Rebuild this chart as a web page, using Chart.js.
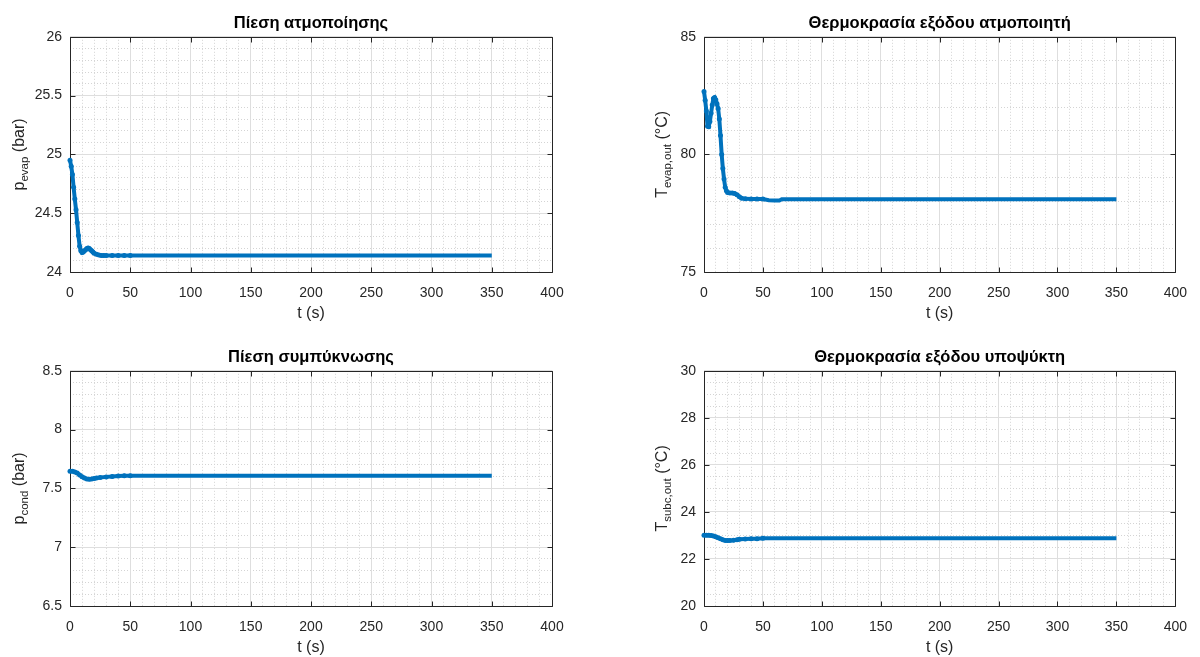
<!DOCTYPE html>
<html>
<head>
<meta charset="utf-8">
<script src="https://cdn.jsdelivr.net/npm/chart.js@4/dist/chart.umd.min.js"></script>
<style>
html,body{margin:0;padding:0;background:#fff;overflow:hidden;width:1200px;height:657px;position:relative;}
canvas{position:absolute;}
</style>
</head>
<body>
<canvas id="c1" width="600" height="328" style="left:0px;top:0px"></canvas>
<canvas id="c2" width="566" height="328" style="left:634px;top:0px"></canvas>
<canvas id="c3" width="600" height="328" style="left:0px;top:334px"></canvas>
<canvas id="c4" width="566" height="328" style="left:634px;top:334px"></canvas>
<script>
// ---------- DATA ----------
const titles = ['Πίεση ατμοποίησης', 'Θερμοκρασία εξόδου ατμοποιητή', 'Πίεση συμπύκνωσης', 'Θερμοκρασία εξόδου υποψύκτη'];
const xLabel = 't (s)';
const xTicks = [0, 50, 100, 150, 200, 250, 300, 350, 400];

// Πίεση ατμοποίησης (bar)
const tPevap = [0,1,2,3,4,5,6,7,8,9,10,11,12,13,14,15,16,17,18,19,20,
  22,24,26,28,30,35,40,45,50,
  60,75,100,125,150,175,200,225,250,275,300,325,350];
const pEvap = [24.95,24.90,24.83,24.72,24.62,24.53,24.42,24.31,24.22,24.18,24.165,24.17,24.18,24.19,24.2,24.205,24.2,24.19,24.18,24.17,24.16,
  24.15,24.145,24.14,24.14,24.14,24.14,24.14,24.14,24.14,
  24.14,24.14,24.14,24.14,24.14,24.14,24.14,24.14,24.14,24.14,24.14,24.14,24.14];
const yTicksPevap = [24, 24.5, 25, 25.5, 26];

// Θερμοκρασία εξόδου ατμοποιητή (°C)
const tTevap = [0,1,2,3,4,5,6,7,8,9,10,11,12,13,14,15,16,17,18,19,20,
  22,24,26,28,30,32,35,40,45,50,55,60,64,66,70,
  75,100,125,150,175,200,225,250,275,300,325,350];
const tEvapOut = [82.67,82.3,81.85,81.2,81.18,81.4,81.75,82.1,82.38,82.42,82.32,82.15,81.95,81.5,80.8,80.0,79.4,78.95,78.6,78.45,78.38,
  78.36,78.36,78.34,78.28,78.2,78.14,78.11,78.1,78.1,78.1,78.05,78.04,78.04,78.09,78.09,
  78.09,78.09,78.09,78.09,78.09,78.09,78.09,78.09,78.09,78.09,78.09,78.09];
const yTicksTevap = [75, 80, 85];

// Πίεση συμπύκνωσης (bar)
const tPcond = [0,2,4,6,8,10,12,14,16,18,20,22,25,30,35,40,45,50,
  60,75,100,125,150,175,200,225,250,275,300,325,350];
const pCond = [7.645,7.645,7.64,7.63,7.615,7.6,7.588,7.58,7.578,7.58,7.584,7.588,7.592,7.598,7.602,7.605,7.607,7.608,
  7.608,7.608,7.608,7.608,7.608,7.608,7.608,7.608,7.608,7.608,7.608,7.608,7.608];
const yTicksPcond = [6.5, 7, 7.5, 8, 8.5];

// Θερμοκρασία εξόδου υποψύκτη (°C)
const tTsubc = [0,2,4,6,8,10,12,14,16,18,20,22,25,28,30,35,40,45,50,
  60,75,100,125,150,175,200,225,250,275,300,325,350];
const tSubcOut = [23.01,23.01,23.01,23.0,22.98,22.94,22.9,22.86,22.82,22.79,22.78,22.79,22.8,22.82,22.84,22.85,22.86,22.86,22.88,
  22.88,22.88,22.88,22.88,22.88,22.88,22.88,22.88,22.88,22.88,22.88,22.88,22.88];
const yTicksTsubc = [20, 22, 24, 26, 28, 30];

// ---------- STYLE / HELPERS ----------
const FONT = '"Liberation Sans", Arial, Helvetica, sans-serif';
const AXC = '#262626';
const LINE = '#0072BD';
const fmt = v => String(Math.round(v * 1000) / 1000);

function drawYTitle(ctx, cx, cy, main, sub, rest) {
  ctx.save();
  ctx.translate(cx, cy);
  ctx.rotate(-Math.PI / 2);
  const fMain = '16px ' + FONT, fSub = '11.5px ' + FONT;
  ctx.font = fMain;
  const w1 = ctx.measureText(main).width, w3 = ctx.measureText(rest).width;
  ctx.font = fSub;
  const w2 = ctx.measureText(sub).width;
  const x0 = -(w1 + w2 + w3) / 2;
  ctx.fillStyle = AXC;
  ctx.textAlign = 'left';
  ctx.textBaseline = 'alphabetic';
  ctx.font = fMain; ctx.fillText(main, x0, 6);
  ctx.font = fSub; ctx.fillText(sub, x0 + w1, 10);
  ctx.font = fMain; ctx.fillText(rest, x0 + w1 + w2, 6);
  ctx.restore();
}

const framePlugin = {
  id: 'frame',
  beforeDatasetsDraw(chart) {
    const { ctx, chartArea: a } = chart;
    const xs = chart.scales.x, ys = chart.scales.y;
    ctx.save();
    ctx.strokeStyle = AXC;
    ctx.lineWidth = 1;
    ctx.beginPath();
    const L = Math.round(a.left) + 0.5, R = Math.round(a.right) + 0.5;
    const T = Math.round(a.top) + 0.5, B = Math.round(a.bottom) + 0.5;
    xs.ticks.forEach(t => {
      const px = Math.round(xs.getPixelForValue(t.value)) + 0.5;
      ctx.moveTo(px, B); ctx.lineTo(px, B - 5);
      ctx.moveTo(px, T); ctx.lineTo(px, T + 5);
    });
    ys.ticks.forEach(t => {
      const py = Math.round(ys.getPixelForValue(t.value)) + 0.5;
      ctx.moveTo(L, py); ctx.lineTo(L + 5, py);
      ctx.moveTo(R, py); ctx.lineTo(R - 5, py);
    });
    ctx.rect(L, T, R - L, B - T);
    ctx.stroke();
    ctx.restore();
  },
  afterDraw(chart, args, opts) {
    const a = chart.chartArea;
    drawYTitle(chart.ctx, opts.cx, (a.top + a.bottom) / 2, opts.main, opts.sub, opts.rest);
  }
};

function makeChart(id, cfg) {
  const pts = cfg.t.map((t, i) => ({ x: t, y: cfg.v[i] }));
  return new Chart(document.getElementById(id), {
    type: 'line',
    data: { datasets: [{
      data: pts, xAxisID: 'x', yAxisID: 'y',
      borderColor: LINE, backgroundColor: LINE,
      borderWidth: 4,
      pointRadius: c => (c.raw && c.raw.x > 50 ? 0 : 2.5),
      pointHoverRadius: 0,
      pointBorderWidth: 0, pointBackgroundColor: LINE,
      tension: 0, clip: false
    }] },
    options: {
      responsive: false, animation: false, events: [],
      layout: { padding: { left: 0, right: cfg.padR, top: 0, bottom: 0 } },
      plugins: {
        legend: { display: false },
        tooltip: { enabled: false },
        title: { display: true, text: cfg.title, color: '#000', fullSize: false,
          font: { family: FONT, size: 16.5, weight: 'bold' },
          padding: { top: 14, bottom: 3 } },
        frame: { cx: cfg.cx, main: cfg.ym, sub: cfg.ys, rest: cfg.yr }
      },
      scales: {
        xm: { type: 'linear', position: 'bottom', min: 0, max: 400,
          ticks: { stepSize: 10, display: false },
          grid: { color: '#d4d4d4', lineWidth: 1, drawTicks: false },
          border: { display: false, dash: [1, 2] },
          afterFit: s => { s.height = 0; } },
        ymn: { type: 'linear', position: 'left', axis: 'y', min: cfg.ymin, max: cfg.ymax,
          ticks: { stepSize: cfg.yminor, display: false },
          grid: { color: '#d4d4d4', lineWidth: 1, drawTicks: false },
          border: { display: false, dash: [1, 2] },
          afterFit: s => { s.width = 0; } },
        x: { type: 'linear', position: 'bottom', min: 0, max: 400,
          afterBuildTicks: s => { s.ticks = xTicks.map(v => ({ value: v })); },
          ticks: { font: { family: FONT, size: 14 }, color: AXC, padding: 13, maxRotation: 0, autoSkip: false, callback: fmt },
          grid: { color: '#dedede', lineWidth: 1, drawTicks: false },
          border: { display: false },
          title: { display: true, text: xLabel, color: AXC, font: { family: FONT, size: 16 }, padding: { top: 0, bottom: 5 } },
          afterFit: s => { s.height = 56; } },
        y: { type: 'linear', position: 'left', min: cfg.ymin, max: cfg.ymax,
          afterBuildTicks: s => { s.ticks = cfg.yticks.map(v => ({ value: v })); },
          ticks: { font: { family: FONT, size: 14 }, color: AXC, padding: 8, autoSkip: false, callback: fmt },
          grid: { color: '#dedede', lineWidth: 1, drawTicks: false },
          border: { display: false },
          afterFit: s => { s.width = 70; } }
      }
    },
    plugins: [framePlugin]
  });
}

makeChart('c1', { t: tPevap, v: pEvap, title: titles[0], padR: 48, ymin: 24, ymax: 26, yticks: yTicksPevap, yminor: 0.1,
  cx: 18, ym: 'p', ys: 'evap', yr: ' (bar)' });
makeChart('c2', { t: tTevap, v: tEvapOut, title: titles[1], padR: 14, ymin: 75, ymax: 85, yticks: yTicksTevap, yminor: 1,
  cx: 27, ym: 'T', ys: 'evap,out', yr: ' (°C)' });
makeChart('c3', { t: tPcond, v: pCond, title: titles[2], padR: 48, ymin: 6.5, ymax: 8.5, yticks: yTicksPcond, yminor: 0.1,
  cx: 18, ym: 'p', ys: 'cond', yr: ' (bar)' });
makeChart('c4', { t: tTsubc, v: tSubcOut, title: titles[3], padR: 14, ymin: 20, ymax: 30, yticks: yTicksTsubc, yminor: 0.5,
  cx: 27, ym: 'T', ys: 'subc,out', yr: ' (°C)' });
</script>
</body>
</html>
